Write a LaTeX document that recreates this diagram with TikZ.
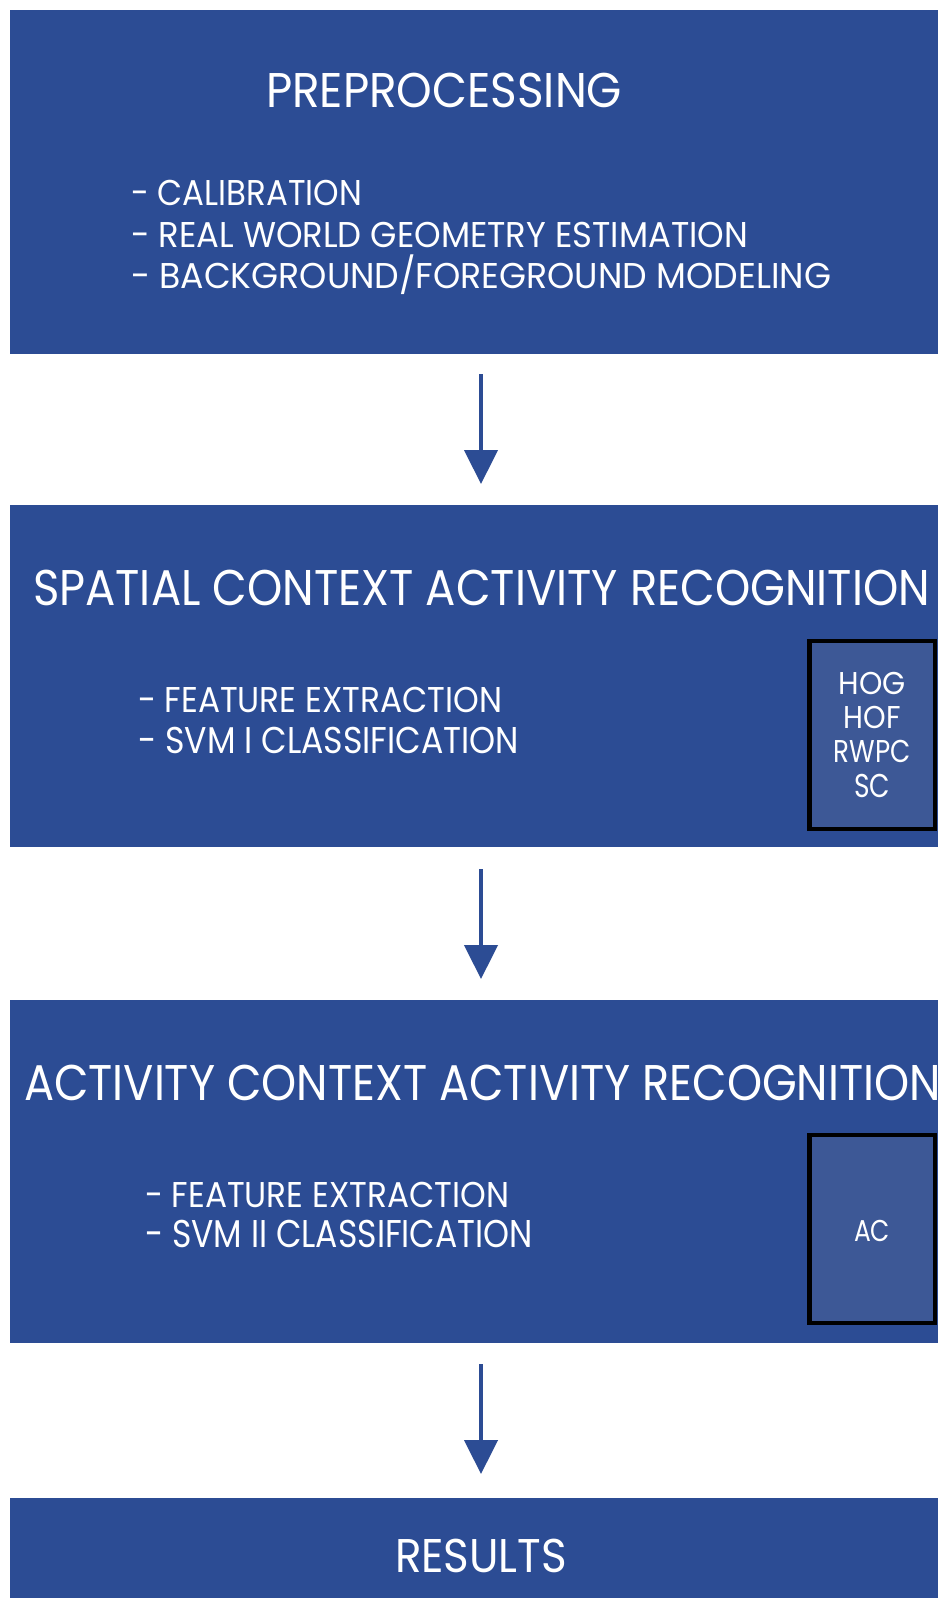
\documentclass[tikz,border=0pt]{standalone}
\usepackage{fontspec}
\usepackage{graphicx}
\setmainfont{Poppins}
\usetikzlibrary{arrows.meta}

\definecolor{stageblue}{RGB}{44,76,148}
\definecolor{tagblue}{RGB}{61,88,150}

% text fitted to a given width and cap height (height taken from the letter H)
\newcommand\fitto[3]{\resizebox{#1pt}{#2pt}{\sbox0{#3}\ht0=\fontcharht\font`H\dp0=0pt\box0}}

\begin{document}
\begin{tikzpicture}[x=1pt,y=-1pt,
  stagebox/.style={fill=stageblue,draw=none,inner sep=0pt,outer sep=0pt,anchor=north west,minimum width=928pt},
  tagbox/.style={fill=tagblue,draw=black,line width=4.5pt},
  label/.style={anchor=base west,inner sep=0pt,outer sep=0pt,text=white},
  clabel/.style={anchor=base,inner sep=0pt,outer sep=0pt,text=white},
  flow/.style={draw=stageblue,line width=4.5pt,-{Triangle[width=33pt,length=34pt]}}]
\useasboundingbox (0,0) rectangle (938,1598);

% stage boxes
\node[stagebox,minimum height=344pt] (pre) at (10,10) {};
\node[stagebox,minimum height=342pt] (spatial) at (10,505) {};
\node[stagebox,minimum height=343pt] (activity) at (10,1000) {};
\node[stagebox,minimum height=110pt] (res) at (10,1498) {};

% feature tag boxes
\draw[tagbox] (809.5,641) rectangle (935,829);
\draw[tagbox] (809.5,1135) rectangle (935,1323);

% preprocessing
\node[label] (preT) at (266,107) {\fitto{356}{34}{PREPROCESSING}};
\node[label] (pre1) at (131,205) {\fitto{231}{25}{- CALIBRATION}};
\node[label] (pre2) at (131,247) {\fitto{617}{25}{- REAL WORLD GEOMETRY ESTIMATION}};
\node[label] (pre3) at (131,288) {\fitto{700}{25}{- BACKGROUND/FOREGROUND MODELING}};

% spatial context stage
\node[label] (spT) at (33,605) {\fitto{897}{35}{SPATIAL CONTEXT ACTIVITY RECOGNITION}};
\node[label] (sp1) at (138,712) {\fitto{364}{25}{- FEATURE EXTRACTION}};
\node[label] (sp2) at (138,753) {\fitto{381}{26}{- SVM I CLASSIFICATION}};
\node[clabel] (hog) at (872,694) {\fitto{67}{22}{HOG}};
\node[clabel] (hof) at (872,728) {\fitto{57}{22}{HOF}};
\node[clabel] (rwpc) at (872,762) {\fitto{77}{22}{RWPC}};
\node[clabel] (sc) at (872,797) {\fitto{36}{23}{SC}};

% activity context stage
\node[label] (acT) at (24,1100) {\fitto{917}{35}{ACTIVITY CONTEXT ACTIVITY RECOGNITION}};
\node[label] (ac1) at (145,1207) {\fitto{364}{25}{- FEATURE EXTRACTION}};
\node[label] (ac2) at (145,1247) {\fitto{388}{27}{- SVM II CLASSIFICATION}};
\node[clabel] (ac) at (872,1241) {\fitto{36}{21}{AC}};

% results
\node[label] (resT) at (395,1572) {\fitto{172}{33}{RESULTS}};

% flow arrows
\draw[flow,shorten <=20pt,shorten >=21pt] ([xshift=7pt]pre.south) -- ([xshift=7pt]spatial.north);
\draw[flow,shorten <=22pt,shorten >=21pt] ([xshift=7pt]spatial.south) -- ([xshift=7pt]activity.north);
\draw[flow,shorten <=21pt,shorten >=24pt] ([xshift=7pt]activity.south) -- ([xshift=7pt]res.north);
\end{tikzpicture}
\end{document}
